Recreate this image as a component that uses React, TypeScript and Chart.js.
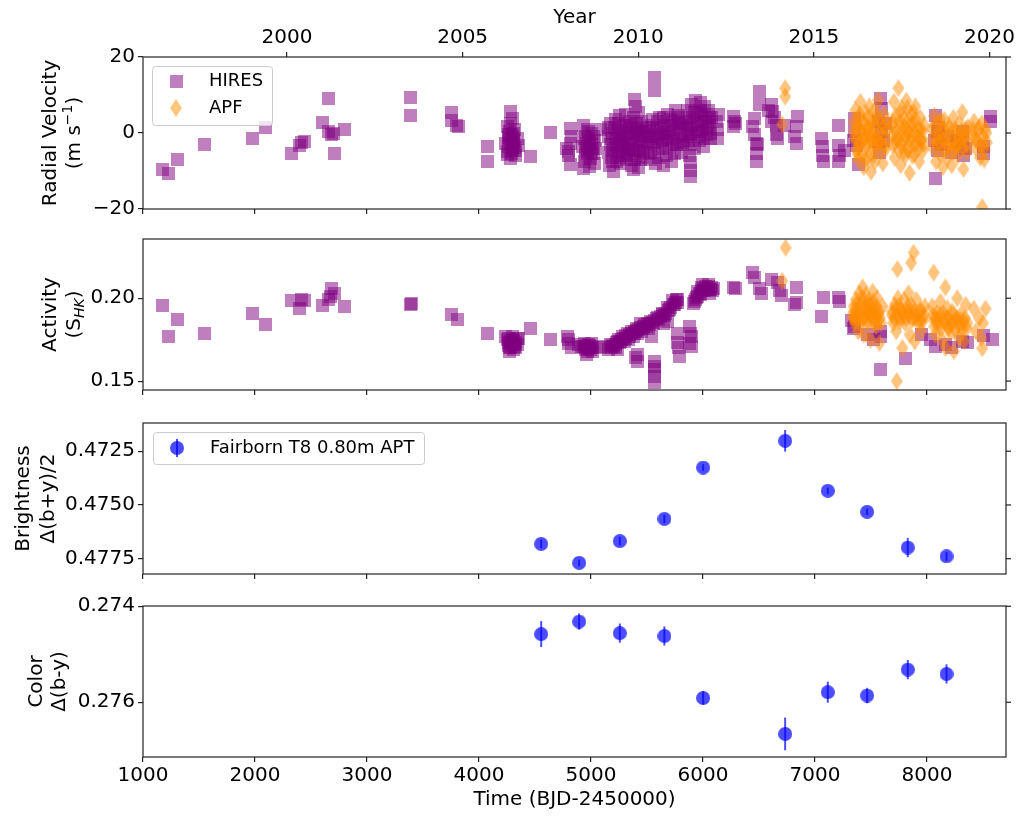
import React, { useEffect, useRef } from 'react';
import { Chart, registerables } from 'chart.js';
Chart.register(...registerables);

const FONT = "'DejaVu Sans', sans-serif";
const PURPLE = 'rgba(128,0,128,0.5)';
const ORANGE = 'rgba(255,140,0,0.5)';
const BLUE = 'rgba(0,0,255,0.7)';
const AXIS = '#222';

// ---------- axis ranges & tick labels ----------
const X_MIN = 1000;
const X_MAX = 8705;
const timeTicks = [1000, 2000, 3000, 4000, 5000, 6000, 7000, 8000];
const YEAR_MIN = 1995.9;
const YEAR_MAX = 2020.47;
const yearTicks = [2000, 2005, 2010, 2015, 2020];
const rvTicks = [-20, 0, 20];
const shkTicks = [0.15, 0.2];
const brightTicks = [0.4725, 0.475, 0.4775];
const colorTicks = [0.274, 0.276];

// ---------- HIRES radial velocities [time, m/s] ----------
const hiresRV: [number, number][] = [
  [1176,-9.6],[1225,-10.6],[1310,-7.1],[1550,-3.0],[1982,-1.4],[2095,1.4],[2330,-5.4],[2393,-3.2],[2412,-2.6],[2446,-2.3],
  [2600,2.8],[2654,9.1],[2654,0.4],[2680,-0.5],[2698,-0.1],[2707,-5.4],[2803,1.0],[3392,9.4],[3392,4.7],[3750,5.4],
  [3758,3.2],[3800,2.1],[3815,1.8],[4080,-3.6],[4080,-7.5],
  [4285,5.6],[4295,3.9],[4250,1.7],[4265,-0.5],[4310,-0.1],[4340,-1.4],[4235,-2.7],[4295,-4.0],[4325,-5.8],[4280,-6.7],
  [4250,-4.9],[4355,-3.2],[4275,-1.8],[4305,-2.5],[4320,0.8],[4265,-3.6],[4330,-4.5],[4285,2.5],[4300,-1.0],[4255,-5.6],
  [4270,0.5],[4290,-0.5],[4310,-2.0],[4280,-3.0],[4300,-4.5],[4320,-3.8],[4290,-5.5],[4260,-1.2],
  [4460,-6.1],[4640,0.1],
  [4818,1.1],[4818,-2.7],[4803,-4.9],[4818,-8.4],[4785,-4.0],[4830,-1.0],[4795,-6.0],
  [4937,2.1],[4953,-1.0],[4983,-2.4],[4967,-4.9],[4997,-6.7],[4937,-9.3],[5027,-8.0],[4980,0.4],[5012,-4.2],[4925,-3.5],
  [4955,-6.0],[5035,-2.0],[4945,-7.5],[5005,0.0],[4985,-8.8],[4970,-5.5],[5020,-5.5],[5087,0.8],
  [4940,-1.5],[4960,-2.8],[4975,-1.8],[4990,-4.0],[5005,-3.0],[5020,-1.0],[4950,-4.2],[5000,-5.5],[5040,-4.0],[4965,1.0],
  [5155,-1.0],[5160,-5.0],[5165,-8.5],[5175,2.5],[5175,-3.0],[5185,-6.5],[5190,0.0],[5200,-10.0],[5205,-4.0],[5215,3.5],
  [5220,-1.5],[5225,-7.5],[5235,1.0],[5240,-5.0],[5250,-2.5],[5255,4.5],[5260,-8.0],[5270,0.5],[5275,-3.5],[5285,-6.0],
  [5290,2.0],[5295,-1.0],[5305,-4.5],[5310,5.0],[5315,-7.0],[5325,0.0],[5330,-2.5],[5340,3.0],[5345,-5.5],[5355,1.5],
  [5360,-8.5],[5370,-3.0],[5375,4.0],[5385,8.7],[5385,-0.5],[5395,6.9],[5400,-6.0],[5405,2.5],[5410,-2.0],[5420,-4.5],
  [5425,5.5],[5435,0.5],[5440,-7.0],[5450,-2.5],[5455,3.0],[5465,-5.0],[5470,0.0],[5375,-9.5],[5425,-9.0],
  [5160,1.5],[5180,-1.5],[5195,-4.5],[5210,1.5],[5230,-3.0],[5245,2.5],[5260,-1.0],[5280,-2.0],[5300,-3.0],[5320,1.5],
  [5335,-4.0],[5350,-1.5],[5365,2.0],[5380,-4.5],[5395,0.5],[5415,1.0],[5430,-3.5],[5445,-1.0],[5460,1.5],[5475,-3.0],
  [5190,-7.5],[5250,-6.5],[5320,-6.0],[5390,-7.0],[5460,-6.5],
  [5565,14.6],[5565,11.1],
  [5495,2.0],[5505,-2.0],[5510,-5.5],[5520,0.5],[5530,-3.5],[5535,-7.0],[5545,3.5],[5555,-1.0],[5565,-5.0],[5575,-8.0],
  [5585,1.5],[5595,-3.0],[5605,-6.5],[5615,4.0],[5625,-0.5],[5635,-4.0],[5645,-8.5],[5655,2.0],[5665,-2.5],[5675,-6.0],
  [5685,5.0],[5695,0.0],[5705,-4.0],[5715,-7.5],[5725,3.0],[5735,-1.5],[5745,-5.5],[5755,6.0],[5765,1.0],[5775,-3.0],
  [5785,4.5],[5795,-0.5],[5805,-5.0],[5820,2.5],[5830,-2.0],
  [5500,-0.5],[5525,-1.0],[5540,1.5],[5560,-2.5],[5580,-0.5],[5600,-1.5],[5620,1.0],[5640,-2.0],[5660,0.5],[5680,-1.0],
  [5700,2.0],[5720,-2.0],[5740,0.5],[5760,-3.0],[5780,2.5],[5800,1.5],[5815,-2.5],[5590,3.0],[5650,4.0],[5710,3.5],[5770,4.0],
  [5890,-11.5],[5890,-9.8],[5885,-7.8],[5880,-6.0],
  [5845,3.0],[5855,-1.0],[5865,6.0],[5875,1.0],[5885,-3.0],[5895,7.5],[5905,4.0],[5915,0.0],[5925,-4.0],[5935,8.5],
  [5945,5.5],[5955,2.0],[5965,-2.0],[5975,8.0],[5985,4.5],[5995,1.0],[6005,-3.5],[6015,7.0],[6025,3.0],[6035,-0.5],
  [6045,6.0],[6055,2.0],[6065,-1.5],[6075,4.0],
  [5860,1.5],[5880,4.0],[5900,2.0],[5920,5.5],[5940,2.5],[5960,0.5],[5980,6.0],[6000,3.0],[6020,5.0],[6040,1.5],
  [6060,4.0],[6070,0.0],[5870,-2.0],[5890,-0.5],[5950,-1.0],[6010,-1.5],
  [6130,0.8],[6130,-1.4],[6140,5.0],[6120,3.0],[6275,4.3],[6275,1.7],[6290,2.5],[6280,3.0],
  [6503,10.9],[6503,7.4],[6459,3.9],[6444,1.7],[6459,-0.5],[6474,-2.7],[6474,-5.4],[6474,-7.5],[6489,-3.0],
  [6608,7.4],[6623,5.6],[6608,3.0],[6653,2.1],[6668,-1.4],[6728,2.1],[6585,6.0],[6635,4.0],[6655,-0.5],
  [6847,4.3],[6832,1.7],[6817,-1.0],[6832,-2.7],
  [7057,-1.4],[7063,-3.6],[7063,-5.8],[7072,-7.5],
  [7206,2.1],[7206,-3.2],[7221,-5.8],[7206,-7.5],[7265,-4.5],
  [7356,3.9],[7356,0.4],[7371,-3.2],[7386,-8.4],[7341,-2.0],
  [7581,9.1],[7596,6.5],[7566,3.0],[7596,0.4],[7566,-2.3],[7575,-5.0],[7615,-2.0],[7625,2.5],
  [8074,4.7],[8074,-11.9],[8089,0.4],[8065,-2.0],[8095,-4.5],[8105,1.5],[8125,-3.0],[8185,-1.0],[8215,-5.0],
  [8314,0.4],[8344,-4.0],[8265,-2.0],[8315,-2.5],[8325,-6.0],
  [8508,-5.4],[8508,-3.6],[8568,4.3],[8568,3.0],
];

// ---------- APF radial velocities [time, m/s] ----------
const apfRV: [number, number][] = [
  [6734,11.8],[6734,9.6],[6707,2.3],
  [7345,3.0],[7355,-1.0],[7360,6.0],[7370,-4.5],[7375,1.5],[7385,-7.0],[7390,4.0],[7400,-2.5],[7405,8.2],[7415,0.0],
  [7420,-5.5],[7430,3.0],[7435,-9.0],[7445,-1.5],[7450,5.5],[7460,-3.5],[7465,1.0],[7475,-6.5],[7485,7.0],[7490,-0.5],
  [7500,-10.2],[7505,3.5],[7515,-4.0],[7525,1.5],[7535,-7.5],[7545,4.5],[7555,-2.0],[7565,8.7],[7575,0.0],[7585,-5.0],
  [7595,2.5],[7605,-8.0],[7615,5.0],[7625,-1.5],[7635,-4.0],[7645,1.0],
  [7350,0.5],[7365,-2.0],[7380,2.0],[7395,-3.5],[7410,0.5],[7425,-1.5],[7440,2.0],[7455,-0.5],[7470,-3.0],[7480,1.5],
  [7495,-1.5],[7510,0.0],[7520,-2.5],[7530,2.5],[7540,-1.0],[7560,-3.0],[7570,3.5],[7580,-2.5],[7600,-0.5],[7610,1.5],
  [7620,-3.5],[7640,3.0],[7400,5.0],[7470,4.0],[7530,6.0],[7380,-5.5],[7450,-7.0],[7520,-6.0],
  [7685,2.0],[7695,-3.0],[7705,8.2],[7710,-6.5],[7720,4.5],[7730,-1.0],[7745,11.8],[7750,-4.5],[7760,1.5],[7765,-8.5],
  [7775,6.5],[7785,-2.0],[7795,3.5],[7805,-6.0],[7815,8.5],[7825,0.5],[7835,-3.5],[7845,-10.5],[7855,5.0],[7865,-1.0],
  [7875,2.5],[7885,-5.5],[7895,7.0],[7910,-2.5],[7920,1.0],[7930,-7.5],[7940,4.0],[7955,-1.5],[7965,-4.5],[7975,2.0],
  [7690,-0.5],[7700,3.0],[7715,-2.5],[7725,0.5],[7740,-2.0],[7755,3.0],[7770,-3.0],[7780,0.0],[7790,-5.0],[7800,1.5],
  [7810,-1.0],[7820,3.0],[7830,-4.5],[7840,0.0],[7850,-2.0],[7860,2.5],[7870,-6.0],[7880,0.5],[7890,-3.0],[7900,3.5],
  [7915,-1.0],[7925,-4.0],[7935,1.0],[7945,-2.0],[7960,0.5],[7970,-3.0],[7760,5.5],[7825,6.5],[7880,5.5],
  [8045,1.0],[8055,-4.0],[8065,4.5],[8080,-7.5],[8090,-1.5],[8105,2.5],[8115,-5.5],[8130,0.0],[8140,-9.0],[8155,3.5],
  [8165,-3.0],[8180,-6.5],[8195,1.5],[8210,-1.5],[8220,-8.5],[8235,4.0],[8250,-4.0],[8260,0.5],[8275,-6.0],[8290,2.5],
  [8305,-2.5],[8315,5.5],[8325,-9.5],[8340,-0.5],[8355,-5.0],[8365,1.5],
  [8050,-1.5],[8070,2.0],[8085,-3.0],[8100,0.0],[8110,-2.5],[8120,3.5],[8135,-1.5],[8150,1.0],[8160,-4.5],[8175,-1.0],
  [8190,-3.5],[8200,1.5],[8215,-2.5],[8230,-5.0],[8245,1.0],[8255,-3.0],[8270,-0.5],[8280,-3.0],[8295,-1.0],[8310,0.5],
  [8320,-4.0],[8335,-1.5],[8350,1.0],[8360,-3.0],
  [8405,-1.0],[8420,3.0],[8435,-4.0],[8455,0.5],[8475,-6.5],[8490,2.5],[8495,-3.0],[8510,-7.0],[8520,1.0],[8535,-2.5],
  [8410,1.0],[8430,-1.5],[8445,-2.0],[8465,1.5],[8480,-3.5],[8500,-1.0],[8515,-4.5],[8530,0.0],
  [8493,-19.5],
];

// ---------- HIRES activity S_HK [time, S] ----------
const hiresSHK: [number, number][] = [
  [1173,0.1958],[1225,0.1770],[1310,0.1869],[1550,0.1788],[1982,0.1907],[2095,0.1839],[2330,0.1988],[2393,0.1938],
  [2412,0.1990],[2446,0.1988],[2600,0.1958],[2654,0.1994],[2670,0.2010],[2683,0.2058],[2707,0.2030],[2803,0.1950],
  [3392,0.1964],[3397,0.1966],[3750,0.1899],[3810,0.1869],[4080,0.1786],
  [4235,0.1770],[4250,0.1750],[4265,0.1760],[4280,0.1740],[4295,0.1770],[4310,0.1745],[4325,0.1730],[4340,0.1755],
  [4355,0.1760],[4265,0.1715],[4285,0.1700],[4305,0.1690],[4320,0.1720],[4275,0.1680],[4330,0.1700],
  [4260,0.1735],[4290,0.1725],[4315,0.1710],[4300,0.1750],[4270,0.1700],[4340,0.1720],
  [4460,0.1817],[4640,0.1748],[4788,0.1768],[4803,0.1728],[4795,0.1750],
  [4825,0.1700],[4885,0.1718],[4915,0.1710],[4937,0.1708],[4953,0.1690],[4970,0.1679],[4985,0.1700],[4960,0.1659],
  [4997,0.1690],[5025,0.1710],[4945,0.1725],[4975,0.1720],[5015,0.1680],[5005,0.1728],
  [4940,0.1700],[4955,0.1710],[4990,0.1715],[5010,0.1700],[4965,0.1695],[4980,0.1705],
  [5087,0.1700],[5135,0.1710],[5155,0.1690],
  [5175,0.1720],[5185,0.1705],[5205,0.1708],[5225,0.1730],[5245,0.1750],[5265,0.1740],[5285,0.1768],[5305,0.1760],
  [5325,0.1788],[5345,0.1770],[5365,0.1800],[5385,0.1790],[5405,0.1817],[5425,0.1810],[5445,0.1847],[5465,0.1830],
  [5215,0.1700],[5255,0.1730],[5295,0.1740],[5335,0.1750],[5375,0.1770],[5415,0.1790],[5455,0.1800],[5235,0.1690],
  [5195,0.1715],[5215,0.1720],[5240,0.1740],[5270,0.1750],[5290,0.1755],[5310,0.1775],[5340,0.1780],[5360,0.1785],
  [5390,0.1800],[5410,0.1805],[5440,0.1825],[5460,0.1815],[5480,0.1840],
  [5416,0.1619],[5416,0.1660],[5400,0.1640],
  [5566,0.1619],[5566,0.1569],[5566,0.1530],[5566,0.1490],[5566,0.1590],[5536,0.1768],
  [5495,0.1830],[5515,0.1820],[5535,0.1860],[5555,0.1850],[5585,0.1877],[5605,0.1870],[5635,0.1907],[5655,0.1895],
  [5685,0.1946],[5705,0.1930],[5725,0.1986],[5745,0.1960],[5765,0.1990],[5775,0.1975],[5685,0.1860],[5645,0.1850],
  [5505,0.1845],[5525,0.1840],[5545,0.1855],[5570,0.1865],[5595,0.1885],[5620,0.1890],[5640,0.1900],[5665,0.1910],
  [5690,0.1925],[5710,0.1945],[5735,0.1960],[5755,0.1975],[5770,0.1990],
  [5775,0.1788],[5775,0.1730],[5790,0.1649],[5780,0.1700],
  [5880,0.1827],[5895,0.1768],[5895,0.1708],[5880,0.1728],[5885,0.1790],
  [5915,0.1966],[5945,0.2006],[5955,0.2040],[5985,0.2065],[6015,0.2046],[6045,0.2085],[6075,0.2065],[6060,0.2026],
  [6045,0.2050],[5975,0.2020],[5995,0.2080],[6025,0.2070],[5935,0.1990],[6085,0.2045],
  [5925,0.1980],[5950,0.2010],[5965,0.2030],[5990,0.2045],[6005,0.2060],[6030,0.2055],[6050,0.2070],[6070,0.2050],
  [6090,0.2060],
  [6275,0.2065],[6290,0.2060],
  [6444,0.2155],[6459,0.2125],[6504,0.2056],[6519,0.2030],[6608,0.2115],[6668,0.2095],[6698,0.2016],[6683,0.2045],
  [6832,0.2065],[6832,0.1976],[6817,0.1960],[7072,0.2006],[7057,0.1887],[7206,0.2006],[7221,0.1980],[7326,0.1867],
  [7341,0.1817],[7355,0.1830],[7581,0.1768],[7581,0.1569],[7581,0.1800],[7805,0.1639],[8029,0.1748],[8074,0.1708],
  [7955,0.1780],[8314,0.1738],[8508,0.1778],[8583,0.1748],[8165,0.1720],[8215,0.1700],[8365,0.1730],[7465,0.1780],
  [7525,0.1750],
];

// ---------- APF activity S_HK [time, S] ----------
const apfSHK: [number, number][] = [
  [6737,0.2304],[6707,0.2105],
  [7335,0.1900],[7345,0.1950],[7355,0.1850],[7365,0.1990],[7375,0.1920],[7385,0.1800],[7395,0.2030],[7405,0.1960],
  [7415,0.1880],[7425,0.2065],[7435,0.1780],[7445,0.1940],[7455,0.2020],[7465,0.1860],[7475,0.1980],[7485,0.1900],
  [7495,0.1750],[7505,0.1960],[7515,0.2040],[7525,0.1880],[7535,0.1930],[7545,0.1830],[7555,0.2000],[7565,0.1900],
  [7575,0.1730],[7590,0.1850],[7605,0.1950],
  [7340,0.1880],[7350,0.1920],[7360,0.1870],[7370,0.1960],[7380,0.1880],[7390,0.1920],[7400,0.1850],[7410,0.2000],
  [7420,0.1920],[7430,0.1870],[7440,0.1990],[7450,0.1900],[7460,0.1940],[7470,0.1920],[7480,0.1850],[7490,0.1960],
  [7500,0.1890],[7510,0.1920],[7520,0.1980],[7530,0.1850],[7540,0.1900],[7550,0.1950],[7560,0.1860],[7570,0.1920],
  [7580,0.1880],
  [7736,0.2175],[7859,0.2214],[7880,0.2274],[8059,0.2155],[8164,0.2065],[7730,0.1500],
  [7685,0.1900],[7700,0.1850],[7710,0.1960],[7725,0.1800],[7740,0.2000],[7755,0.1880],[7765,0.1930],[7780,0.1700],
  [7795,0.1990],[7805,0.1850],[7820,0.1920],[7835,0.2030],[7845,0.1780],[7860,0.1960],[7875,0.1880],[7890,0.1740],
  [7905,0.1990],[7920,0.1850],[7935,0.1920],[7950,0.1800],[7965,0.1880],[7980,0.1950],
  [7690,0.1920],[7705,0.1880],[7720,0.1940],[7735,0.1890],[7750,0.1950],[7760,0.1860],[7775,0.1920],[7790,0.1900],
  [7810,0.1880],[7825,0.1950],[7840,0.1900],[7850,0.1930],[7865,0.1870],[7885,0.1920],[7900,0.1880],[7915,0.1910],
  [7930,0.1870],[7945,0.1930],[7960,0.1860],[7975,0.1900],
  [8045,0.1950],[8060,0.1870],[8075,0.1780],[8090,0.1910],[8105,0.1830],[8120,0.1980],[8135,0.1750],[8150,0.1880],
  [8165,0.1700],[8180,0.1940],[8195,0.1820],[8210,0.1790],[8225,0.1920],[8240,0.1680],[8255,0.1860],[8270,0.2000],
  [8285,0.1760],[8300,0.1900],[8315,0.1830],[8330,0.1740],[8345,0.1960],[8360,0.1850],
  [8050,0.1900],[8065,0.1830],[8080,0.1880],[8100,0.1860],[8115,0.1900],[8130,0.1820],[8145,0.1910],[8160,0.1850],
  [8175,0.1880],[8190,0.1830],[8205,0.1870],[8220,0.1850],[8235,0.1900],[8250,0.1810],[8265,0.1880],[8280,0.1840],
  [8295,0.1870],[8310,0.1800],[8325,0.1860],[8340,0.1880],[8355,0.1820],
  [8418,0.1937],[8523,0.1937],[8493,0.1698],[8499,0.1850],[8435,0.1800],[8465,0.1880],[8485,0.1760],
];

// ---------- Fairborn T8 APT seasonal means ----------
const aptTime = [4555, 4894, 5257, 5655, 6001, 6733, 7114, 7465, 7828, 8174];
const aptBright = [0.47681, 0.47769, 0.47668, 0.47565, 0.47326, 0.47202, 0.47434, 0.47532, 0.47698, 0.47739];
const aptBrightErr = [0.0002, 0.00015, 0.0002, 0.0002, 0.00015, 0.0005, 0.00015, 0.00015, 0.00045, 0.0002];
const aptColor = [0.27458, 0.27432, 0.27456, 0.27462, 0.27591, 0.27666, 0.27579, 0.27586, 0.27532, 0.27541];
const aptColorErr = [0.00027, 0.00017, 0.0002, 0.0002, 0.00014, 0.00034, 0.00022, 0.00016, 0.0002, 0.0002];

// ---------- markers ----------
function squareMarker(size: number, color: string) {
  const c = document.createElement('canvas');
  c.width = size; c.height = size;
  const g = c.getContext('2d')!;
  g.fillStyle = color; g.fillRect(0, 0, size, size);
  return c;
}
function diamondMarker(w: number, h: number, color: string) {
  const c = document.createElement('canvas');
  c.width = w; c.height = h;
  const g = c.getContext('2d')!;
  g.fillStyle = color;
  g.beginPath(); g.moveTo(w / 2, 0); g.lineTo(w, h / 2); g.lineTo(w / 2, h); g.lineTo(0, h / 2); g.closePath(); g.fill();
  return c;
}
function circleMarker(d: number, color: string) {
  const c = document.createElement('canvas');
  c.width = d; c.height = d;
  const g = c.getContext('2d')!;
  g.fillStyle = color;
  g.beginPath(); g.arc(d / 2, d / 2, d / 2, 0, Math.PI * 2); g.fill();
  return c;
}

type Part = { t: string; sup?: boolean; sub?: boolean; italic?: boolean };
type TitleLine = { parts: Part[]; cx: number };

function drawRotatedLine(ctx: CanvasRenderingContext2D, parts: Part[], cx: number, cy: number, size: number) {
  ctx.save();
  ctx.translate(cx, cy);
  ctx.rotate(-Math.PI / 2);
  ctx.fillStyle = '#000';
  ctx.textBaseline = 'alphabetic';
  ctx.textAlign = 'left';
  const fontFor = (p: Part) => `${p.italic ? 'italic ' : ''}${p.sup || p.sub ? Math.round(size * 0.7) : size}px ${FONT}`;
  let total = 0;
  const widths = parts.map((p) => { ctx.font = fontFor(p); const w = ctx.measureText(p.t).width; total += w; return w; });
  let x = -total / 2;
  const base = size * 0.36;
  parts.forEach((p, i) => {
    ctx.font = fontFor(p);
    let dy = 0;
    if (p.sup) dy = -size * 0.42;
    if (p.sub) dy = size * 0.2;
    ctx.fillText(p.t, x, base + dy);
    x += widths[i];
  });
  ctx.restore();
}

type LegendItem = { label: string; marker: HTMLCanvasElement; errBar?: number };
type Panel = {
  key: string;
  top: number;
  height: number;
  padTop: number;
  bottomH: number;
  yMin: number;
  yMax: number;
  reverse: boolean;
  yTicks: number[];
  fmt: (v: number) => string;
  titles: TitleLine[];
  year: boolean;
  xLabels: boolean;
  datasets: () => any[];
  legend?: { x: number; y: number; w: number; h: number; items: () => LegendItem[] };
  errors?: { t: number[]; v: number[]; e: number[] };
};

let markerCache: any = null;
function markers() {
  if (!markerCache) {
    markerCache = {
      sq: squareMarker(13, PURPLE),
      dm: diamondMarker(12, 18, ORANGE),
      ci: circleMarker(14, BLUE),
    };
  }
  return markerCache;
}

const panels: Panel[] = [
  {
    key: 'rv', top: 0, height: 224, padTop: 0, bottomH: 15,
    yMin: -20, yMax: 20, reverse: false, yTicks: rvTicks,
    fmt: (v) => (v < 0 ? '\u2212' + Math.abs(v) : String(v)),
    titles: [
      { parts: [{ t: 'Radial Velocity' }], cx: 49 },
      { parts: [{ t: '(m s' }, { t: '\u22121', sup: true }, { t: ')' }], cx: 73 },
    ],
    year: true, xLabels: false,
    datasets: () => [
      { label: 'HIRES', data: hiresRV.map(([x, y]) => ({ x, y })), pointStyle: markers().sq, order: 1 },
      { label: 'APF', data: apfRV.map(([x, y]) => ({ x, y })), pointStyle: markers().dm, order: 0 },
    ],
    legend: { x: 152, y: 66, w: 120, h: 59, items: () => [
      { label: 'HIRES', marker: markers().sq },
      { label: 'APF', marker: markers().dm },
    ] },
  },
  {
    key: 'shk', top: 224, height: 181, padTop: 15, bottomH: 13,
    yMin: 0.14464, yMax: 0.23571, reverse: false, yTicks: shkTicks,
    fmt: (v) => v.toFixed(2),
    titles: [
      { parts: [{ t: 'Activity' }], cx: 49 },
      { parts: [{ t: '(S' }, { t: 'HK', sub: true, italic: true }, { t: ')' }], cx: 73 },
    ],
    year: false, xLabels: false,
    datasets: () => [
      { label: 'HIRES', data: hiresSHK.map(([x, y]) => ({ x, y })), pointStyle: markers().sq, order: 1 },
      { label: 'APF', data: apfSHK.map(([x, y]) => ({ x, y })), pointStyle: markers().dm, order: 0 },
    ],
  },
  {
    key: 'bright', top: 405, height: 185, padTop: 18, bottomH: 16,
    yMin: 0.47119, yMax: 0.47821, reverse: true, yTicks: brightTicks,
    fmt: (v) => v.toFixed(4),
    titles: [
      { parts: [{ t: 'Brightness' }], cx: 22 },
      { parts: [{ t: '\u0394(b+y)/2' }], cx: 47 },
    ],
    year: false, xLabels: false,
    datasets: () => [
      { label: 'Fairborn T8 0.80m APT', data: aptTime.map((x, i) => ({ x, y: aptBright[i] })), pointStyle: markers().ci, order: 0 },
    ],
    legend: { x: 153, y: 432, w: 271, h: 32, items: () => [
      { label: 'Fairborn T8 0.80m APT', marker: markers().ci, errBar: 9 },
    ] },
    errors: { t: aptTime, v: aptBright, e: aptBrightErr },
  },
  {
    key: 'color', top: 590, height: 226, padTop: 16, bottomH: 59,
    yMin: 0.273995, yMax: 0.27714, reverse: true, yTicks: colorTicks,
    fmt: (v) => v.toFixed(3),
    titles: [
      { parts: [{ t: 'Color' }], cx: 35 },
      { parts: [{ t: '\u0394(b-y)' }], cx: 58 },
    ],
    year: false, xLabels: true,
    datasets: () => [
      { label: 'Fairborn', data: aptTime.map((x, i) => ({ x, y: aptColor[i] })), pointStyle: markers().ci, order: 0 },
    ],
    errors: { t: aptTime, v: aptColor, e: aptColorErr },
  },
];

function buildConfig(p: Panel): any {
  const tickGrid = { display: true, drawOnChartArea: false, drawTicks: true, tickLength: 5, tickColor: AXIS, lineWidth: 1.2 };
  const tickFont = { family: FONT, size: 20 };
  const scales: any = {
    x: {
      type: 'linear', position: 'bottom', min: X_MIN, max: X_MAX,
      grid: tickGrid, border: { display: false },
      afterBuildTicks: (s: any) => { s.ticks = timeTicks.map((v) => ({ value: v })); },
      ticks: { display: p.xLabels, font: tickFont, color: '#000', padding: 2, maxRotation: 0, autoSkip: false, callback: (v: any) => String(v) },
      title: p.xLabels
        ? { display: true, text: 'Time (BJD-2450000)', font: tickFont, color: '#000', padding: { top: 0, bottom: 4 } }
        : { display: false },
      afterFit: (s: any) => { s.height = p.bottomH; },
    },
    y: {
      type: 'linear', position: 'left', min: p.yMin, max: p.yMax, reverse: p.reverse,
      grid: tickGrid, border: { display: false },
      afterBuildTicks: (s: any) => { s.ticks = p.yTicks.map((v) => ({ value: v })); },
      ticks: { font: tickFont, color: '#000', padding: 3, callback: (v: any) => p.fmt(Number(v)) },
      afterFit: (s: any) => { s.width = 143; },
    },
  };
  if (p.year) {
    scales.x2 = {
      type: 'linear', axis: 'x', position: 'top', min: YEAR_MIN, max: YEAR_MAX,
      grid: tickGrid, border: { display: false },
      afterBuildTicks: (s: any) => { s.ticks = yearTicks.map((v) => ({ value: v })); },
      ticks: { font: tickFont, color: '#000', padding: 2, maxRotation: 0, autoSkip: false, callback: (v: any) => String(v) },
      title: { display: true, text: 'Year', font: tickFont, color: '#000', padding: { top: 6, bottom: 0 } },
      afterFit: (s: any) => { s.height = 57; },
    };
  }

  const decor = {
    id: 'decor_' + p.key,
    beforeDatasetsDraw(chart: any) {
      if (!p.errors) return;
      const { ctx, chartArea: a } = chart;
      const xs = chart.scales.x, ys = chart.scales.y;
      ctx.save();
      ctx.beginPath(); ctx.rect(a.left, a.top, a.right - a.left, a.bottom - a.top); ctx.clip();
      ctx.strokeStyle = BLUE; ctx.lineWidth = 2;
      p.errors.t.forEach((t, i) => {
        const x = xs.getPixelForValue(t);
        const y1 = ys.getPixelForValue(p.errors!.v[i] - p.errors!.e[i]);
        const y2 = ys.getPixelForValue(p.errors!.v[i] + p.errors!.e[i]);
        ctx.beginPath(); ctx.moveTo(x, y1); ctx.lineTo(x, y2); ctx.stroke();
      });
      ctx.restore();
    },
    afterDraw(chart: any) {
      const { ctx, chartArea: a } = chart;
      const ys = chart.scales.y;
      ctx.save();
      ctx.strokeStyle = AXIS; ctx.lineWidth = 1.2;
      ctx.strokeRect(a.left, a.top, a.right - a.left, a.bottom - a.top);
      p.yTicks.forEach((v) => {
        const y = ys.getPixelForValue(v);
        ctx.beginPath(); ctx.moveTo(a.right, y); ctx.lineTo(a.right + 5, y); ctx.stroke();
      });
      const cy = (a.top + a.bottom) / 2;
      p.titles.forEach((tl) => drawRotatedLine(ctx, tl.parts, tl.cx, cy, 20));
      if (p.legend) {
        const L = p.legend;
        const ly = L.y - p.top;
        ctx.fillStyle = 'rgba(255,255,255,0.8)';
        ctx.strokeStyle = '#cccccc'; ctx.lineWidth = 1;
        ctx.beginPath();
        (ctx as any).roundRect(L.x + 0.5, ly + 0.5, L.w, L.h, 3);
        ctx.fill(); ctx.stroke();
        const items = L.items();
        const rowH = items.length > 1 ? 27 : 0;
        const firstY = items.length > 1 ? ly + 15 : ly + L.h / 2;
        items.forEach((it, i) => {
          const yy = firstY + i * rowH;
          if (it.errBar) {
            ctx.strokeStyle = BLUE; ctx.lineWidth = 2;
            ctx.beginPath(); ctx.moveTo(L.x + 24, yy - it.errBar); ctx.lineTo(L.x + 24, yy + it.errBar); ctx.stroke();
          }
          ctx.drawImage(it.marker, L.x + 24 - it.marker.width / 2, yy - it.marker.height / 2);
          ctx.fillStyle = '#000';
          ctx.font = `18px ${FONT}`;
          ctx.textBaseline = 'middle';
          ctx.textAlign = 'left';
          ctx.fillText(it.label, L.x + 57, yy);
        });
      }
      ctx.restore();
    },
  };

  const datasets = p.datasets().map((d: any) => ({
    ...d,
    showLine: false,
    pointRadius: 7,
    pointHoverRadius: 7,
    clip: { left: 0, top: 0, right: 0, bottom: 0 },
  }));

  return {
    type: 'scatter',
    data: { datasets },
    options: {
      animation: false,
      responsive: false,
      events: [],
      layout: { padding: { top: p.padTop, left: 0, right: 21, bottom: 0 } },
      plugins: { legend: { display: false }, tooltip: { enabled: false } },
      scales,
    },
    plugins: [decor],
  };
}

function PanelChart({ panel }: { panel: Panel }) {
  const ref = useRef<HTMLCanvasElement>(null);
  useEffect(() => {
    const chart = new Chart(ref.current!, buildConfig(panel));
    return () => chart.destroy();
  }, [panel]);
  return (
    <canvas
      ref={ref}
      width={1027}
      height={panel.height}
      style={{ position: 'absolute', left: 0, top: panel.top, width: 1027, height: panel.height, display: 'block' }}
    />
  );
}

export default function App() {
  return (
    <div style={{ position: 'absolute', left: 0, top: 0, width: 1027, height: 816, background: '#fff' }}>
      {panels.map((p) => (
        <PanelChart key={p.key} panel={p} />
      ))}
    </div>
  );
}
